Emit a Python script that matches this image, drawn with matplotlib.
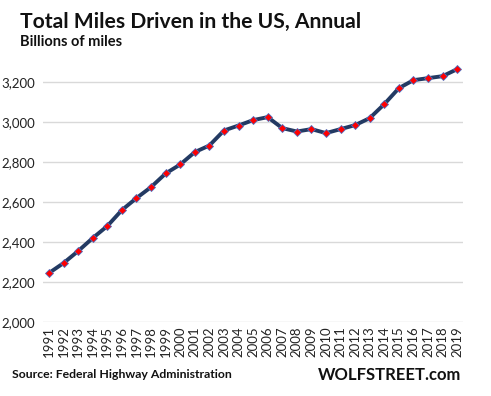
import matplotlib.pyplot as plt
import numpy as np

years = list(range(1991, 2020))
miles = [2245, 2295, 2355, 2420, 2480, 2560, 2620, 2675, 2743, 2788,
         2850, 2883, 2958, 2983, 3010, 3025, 2970, 2953, 2965, 2945,
         2965, 2985, 3020, 3090, 3170, 3210, 3220, 3230, 3265]
yticks = [2000, 2200, 2400, 2600, 2800, 3000, 3200]

plt.rcParams['font.family'] = ['Lato', 'DejaVu Sans']

fig = plt.figure(figsize=(4.91, 3.96), dpi=100)
ax = fig.add_axes([0.088, 0.187, 0.855, 0.656])

ax.plot(years, miles, color='#233a63', lw=2.8, zorder=3,
        marker='D', markersize=4.2, markerfacecolor='#ff0000',
        markeredgecolor='#4f6fc0', markeredgewidth=0.6)

ax.set_ylim(2000, 3300)
ax.set_xlim(1990.6, 2019.4)
ax.set_yticks(yticks)
ax.set_yticklabels([f'{v:,}' for v in yticks])
ax.set_xticks(years)
ax.set_xticklabels([str(y) for y in years], rotation=90)
ax.yaxis.grid(True, color='#d9d9d9', lw=1)
ax.set_axisbelow(True)
for s in ax.spines.values():
    s.set_visible(False)
ax.tick_params(axis='both', length=0, labelsize=9.5, colors='#222222')
ax.tick_params(axis='y', pad=6)
ax.tick_params(axis='x', pad=3)

fig.text(0.04, 0.93, 'Total Miles Driven in the US, Annual',
         fontsize=15.2, fontweight='bold', color='#111111')
fig.text(0.04, 0.885, 'Billions of miles', fontsize=10.5,
         fontweight='bold', color='#111111')
fig.text(0.024, 0.045, 'Source: Federal Highway Administration',
         fontsize=8.8, fontweight='bold', color='#111111')
fig.text(0.94, 0.04, 'WOLFSTREET.com', fontsize=12,
         fontweight='bold', color='#111111', ha='right')

fig.savefig('out.png', dpi=100)
